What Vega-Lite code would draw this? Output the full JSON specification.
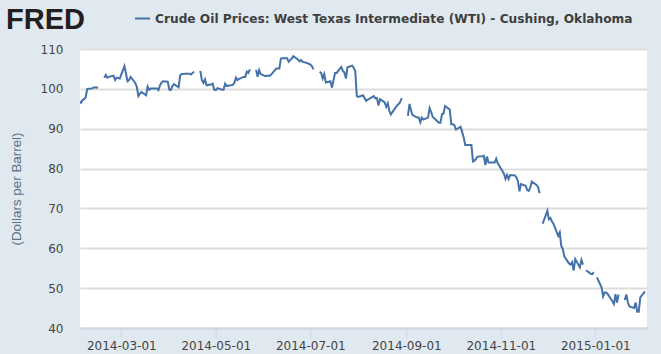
{"$schema":"https://vega.github.io/schema/vega-lite/v6.json","width":567,"height":279,"autosize":{"type":"none"},"padding":{"left":80,"top":49,"right":14,"bottom":26},"background":"#e1e9f0","view":{"fill":"#ffffff","stroke":null},
"title":{"text":"FRED","font":"Liberation Sans","fontWeight":"bold","fontSize":29,"color":"#231f20","anchor":"start","frame":"group","dx":-74,"offset":0,"dy":25},
"data":{"values":[
{"date":"2014-01-31","price":97.5},{"date":"2014-02-03","price":96.5},{"date":"2014-02-04","price":97.2},{"date":"2014-02-05","price":97.4},{"date":"2014-02-06","price":97.9},{"date":"2014-02-07","price":100.0},{"date":"2014-02-10","price":100.1},{"date":"2014-02-11","price":100.3},{"date":"2014-02-12","price":100.4},{"date":"2014-02-13","price":100.3},{"date":"2014-02-14","price":100.4},{"date":"2014-02-17","price":null},
{"date":"2014-02-18","price":102.8},{"date":"2014-02-19","price":103.5},{"date":"2014-02-20","price":102.8},{"date":"2014-02-21","price":103.0},{"date":"2014-02-24","price":103.3},{"date":"2014-02-25","price":102.2},{"date":"2014-02-26","price":102.8},{"date":"2014-02-27","price":102.7},{"date":"2014-02-28","price":102.6},
{"date":"2014-03-03","price":105.7},{"date":"2014-03-04","price":103.8},{"date":"2014-03-05","price":101.9},{"date":"2014-03-06","price":102.2},{"date":"2014-03-07","price":103.0},{"date":"2014-03-10","price":101.5},{"date":"2014-03-11","price":100.5},{"date":"2014-03-12","price":98.2},{"date":"2014-03-13","price":98.8},{"date":"2014-03-14","price":99.2},{"date":"2014-03-17","price":98.4},{"date":"2014-03-18","price":100.6},{"date":"2014-03-19","price":99.8},{"date":"2014-03-20","price":100.1},{"date":"2014-03-21","price":100.1},{"date":"2014-03-24","price":100.1},{"date":"2014-03-25","price":99.7},{"date":"2014-03-26","price":100.9},{"date":"2014-03-27","price":101.6},{"date":"2014-03-28","price":101.9},{"date":"2014-03-31","price":101.8},
{"date":"2014-04-01","price":99.8},{"date":"2014-04-02","price":99.7},{"date":"2014-04-03","price":100.7},{"date":"2014-04-04","price":101.2},{"date":"2014-04-07","price":100.4},{"date":"2014-04-08","price":103.4},{"date":"2014-04-09","price":103.7},{"date":"2014-04-10","price":103.7},{"date":"2014-04-11","price":103.8},{"date":"2014-04-14","price":103.8},{"date":"2014-04-15","price":103.6},{"date":"2014-04-16","price":104.0},{"date":"2014-04-17","price":104.3},{"date":"2014-04-18","price":null},
{"date":"2014-04-21","price":104.5},{"date":"2014-04-22","price":102.2},{"date":"2014-04-23","price":101.5},{"date":"2014-04-24","price":102.4},{"date":"2014-04-25","price":100.9},{"date":"2014-04-28","price":101.1},{"date":"2014-04-29","price":101.3},{"date":"2014-04-30","price":99.8},
{"date":"2014-05-01","price":99.7},{"date":"2014-05-02","price":100.2},{"date":"2014-05-05","price":99.8},{"date":"2014-05-06","price":99.8},{"date":"2014-05-07","price":101.3},{"date":"2014-05-08","price":100.7},{"date":"2014-05-09","price":100.8},{"date":"2014-05-12","price":101.0},{"date":"2014-05-13","price":101.5},{"date":"2014-05-14","price":102.8},{"date":"2014-05-15","price":102.2},{"date":"2014-05-16","price":102.5},{"date":"2014-05-19","price":103.0},{"date":"2014-05-20","price":103.0},{"date":"2014-05-21","price":104.3},{"date":"2014-05-22","price":104.0},{"date":"2014-05-23","price":104.9},{"date":"2014-05-26","price":null},
{"date":"2014-05-27","price":104.8},{"date":"2014-05-28","price":103.0},{"date":"2014-05-29","price":104.7},{"date":"2014-05-30","price":103.7},{"date":"2014-06-02","price":103.2},{"date":"2014-06-03","price":103.3},{"date":"2014-06-04","price":103.3},{"date":"2014-06-05","price":103.3},{"date":"2014-06-06","price":103.7},{"date":"2014-06-09","price":105.1},{"date":"2014-06-10","price":105.1},{"date":"2014-06-11","price":105.1},{"date":"2014-06-12","price":107.6},{"date":"2014-06-13","price":107.7},{"date":"2014-06-16","price":107.7},{"date":"2014-06-17","price":106.8},{"date":"2014-06-18","price":107.2},{"date":"2014-06-19","price":107.6},{"date":"2014-06-20","price":108.2},{"date":"2014-06-23","price":107.4},{"date":"2014-06-24","price":106.9},{"date":"2014-06-25","price":107.2},{"date":"2014-06-26","price":106.8},{"date":"2014-06-27","price":106.7},{"date":"2014-06-30","price":106.3},
{"date":"2014-07-01","price":106.1},{"date":"2014-07-02","price":105.7},{"date":"2014-07-03","price":104.9},{"date":"2014-07-04","price":null},
{"date":"2014-07-07","price":104.3},{"date":"2014-07-08","price":104.0},{"date":"2014-07-09","price":102.6},{"date":"2014-07-10","price":103.7},{"date":"2014-07-11","price":101.6},{"date":"2014-07-14","price":101.9},{"date":"2014-07-15","price":100.3},{"date":"2014-07-16","price":102.2},{"date":"2014-07-17","price":104.0},{"date":"2014-07-18","price":104.0},{"date":"2014-07-21","price":105.5},{"date":"2014-07-22","price":104.5},{"date":"2014-07-23","price":104.1},{"date":"2014-07-24","price":102.6},{"date":"2014-07-25","price":105.4},{"date":"2014-07-28","price":105.8},{"date":"2014-07-29","price":105.3},{"date":"2014-07-30","price":104.5},{"date":"2014-07-31","price":98.2},
{"date":"2014-08-01","price":98.0},{"date":"2014-08-04","price":98.4},{"date":"2014-08-05","price":97.7},{"date":"2014-08-06","price":97.0},{"date":"2014-08-07","price":97.3},{"date":"2014-08-08","price":97.5},{"date":"2014-08-11","price":98.2},{"date":"2014-08-12","price":97.6},{"date":"2014-08-13","price":97.7},{"date":"2014-08-14","price":95.8},{"date":"2014-08-15","price":97.4},{"date":"2014-08-18","price":96.6},{"date":"2014-08-19","price":95.5},{"date":"2014-08-20","price":96.4},{"date":"2014-08-21","price":94.5},{"date":"2014-08-22","price":93.6},{"date":"2014-08-25","price":95.3},{"date":"2014-08-26","price":95.8},{"date":"2014-08-27","price":96.2},{"date":"2014-08-28","price":96.7},{"date":"2014-08-29","price":97.7},{"date":"2014-09-01","price":null},
{"date":"2014-09-02","price":93.2},{"date":"2014-09-03","price":96.2},{"date":"2014-09-04","price":94.7},{"date":"2014-09-05","price":93.4},{"date":"2014-09-08","price":92.8},{"date":"2014-09-09","price":92.8},{"date":"2014-09-10","price":91.6},{"date":"2014-09-11","price":92.8},{"date":"2014-09-12","price":92.3},{"date":"2014-09-15","price":92.8},{"date":"2014-09-16","price":95.2},{"date":"2014-09-17","price":94.2},{"date":"2014-09-18","price":93.0},{"date":"2014-09-19","price":92.6},{"date":"2014-09-22","price":91.5},{"date":"2014-09-23","price":91.5},{"date":"2014-09-24","price":93.7},{"date":"2014-09-25","price":93.8},{"date":"2014-09-26","price":95.7},{"date":"2014-09-29","price":94.8},{"date":"2014-09-30","price":91.1},
{"date":"2014-10-01","price":91.1},{"date":"2014-10-02","price":90.9},{"date":"2014-10-03","price":89.8},{"date":"2014-10-06","price":90.5},{"date":"2014-10-07","price":89.2},{"date":"2014-10-08","price":87.8},{"date":"2014-10-09","price":85.9},{"date":"2014-10-10","price":85.9},{"date":"2014-10-13","price":85.9},{"date":"2014-10-14","price":81.8},{"date":"2014-10-15","price":82.0},{"date":"2014-10-16","price":82.5},{"date":"2014-10-17","price":83.0},{"date":"2014-10-20","price":83.1},{"date":"2014-10-21","price":83.2},{"date":"2014-10-22","price":80.9},{"date":"2014-10-23","price":83.0},{"date":"2014-10-24","price":81.5},{"date":"2014-10-27","price":81.5},{"date":"2014-10-28","price":81.5},{"date":"2014-10-29","price":82.5},{"date":"2014-10-30","price":81.3},{"date":"2014-10-31","price":80.7},
{"date":"2014-11-03","price":78.7},{"date":"2014-11-04","price":77.4},{"date":"2014-11-05","price":78.4},{"date":"2014-11-06","price":77.4},{"date":"2014-11-07","price":78.4},{"date":"2014-11-10","price":78.3},{"date":"2014-11-11","price":77.8},{"date":"2014-11-12","price":76.9},{"date":"2014-11-13","price":74.3},{"date":"2014-11-14","price":76.1},{"date":"2014-11-17","price":75.7},{"date":"2014-11-18","price":74.6},{"date":"2014-11-19","price":74.4},{"date":"2014-11-20","price":75.3},{"date":"2014-11-21","price":76.7},{"date":"2014-11-24","price":75.9},{"date":"2014-11-25","price":75.4},{"date":"2014-11-26","price":73.8},{"date":"2014-11-27","price":null},
{"date":"2014-11-28","price":66.2},{"date":"2014-12-01","price":69.4},{"date":"2014-12-02","price":67.3},{"date":"2014-12-03","price":67.6},{"date":"2014-12-04","price":66.7},{"date":"2014-12-05","price":66.1},{"date":"2014-12-08","price":63.1},{"date":"2014-12-09","price":64.0},{"date":"2014-12-10","price":60.6},{"date":"2014-12-11","price":59.8},{"date":"2014-12-12","price":57.9},{"date":"2014-12-15","price":56.2},{"date":"2014-12-16","price":55.9},{"date":"2014-12-17","price":56.5},{"date":"2014-12-18","price":54.4},{"date":"2014-12-19","price":57.3},{"date":"2014-12-22","price":55.2},{"date":"2014-12-23","price":57.1},{"date":"2014-12-24","price":55.9},{"date":"2014-12-25","price":null},
{"date":"2014-12-26","price":54.5},{"date":"2014-12-29","price":53.6},{"date":"2014-12-30","price":53.5},{"date":"2014-12-31","price":54.0},{"date":"2015-01-01","price":null},
{"date":"2015-01-02","price":52.7},{"date":"2015-01-05","price":50.2},{"date":"2015-01-06","price":47.9},{"date":"2015-01-07","price":48.9},{"date":"2015-01-08","price":48.9},{"date":"2015-01-09","price":48.5},{"date":"2015-01-12","price":46.7},{"date":"2015-01-13","price":46.0},{"date":"2015-01-14","price":48.5},{"date":"2015-01-15","price":46.4},{"date":"2015-01-16","price":48.4},{"date":"2015-01-19","price":null},
{"date":"2015-01-20","price":47.0},{"date":"2015-01-21","price":48.4},{"date":"2015-01-22","price":46.4},{"date":"2015-01-23","price":45.4},{"date":"2015-01-26","price":45.0},{"date":"2015-01-27","price":46.4},{"date":"2015-01-28","price":44.1},{"date":"2015-01-29","price":44.1},{"date":"2015-01-30","price":47.7},{"date":"2015-02-02","price":49.2}
]},
"transform":[{"calculate":"'Crude Oil Prices: West Texas Intermediate (WTI) - Cushing, Oklahoma'","as":"series"}],
"mark":{"type":"line","strokeWidth":2,"clip":true,"interpolate":"linear"},
"encoding":{
"x":{"field":"date","type":"temporal","title":null,"scale":{"type":"utc","domain":[{"year":2014,"month":2,"date":2,"hours":8,"utc":true},{"year":2015,"month":2,"date":3,"hours":8,"utc":true}]},
"axis":{"values":[{"year":2014,"month":3,"date":1,"utc":true},{"year":2014,"month":5,"date":1,"utc":true},{"year":2014,"month":7,"date":1,"utc":true},{"year":2014,"month":9,"date":1,"utc":true},{"year":2014,"month":11,"date":1,"utc":true},{"year":2015,"month":1,"date":1,"utc":true}],"labelExpr":"utcFormat(datum.value,'%Y-%m-%d')","grid":false,"domainColor":"#ccd6e2","domainWidth":2,"tickColor":"#d3deea","tickWidth":2,"tickSize":10,"labelPadding":2,"labelFont":"DejaVu Sans","labelFontSize":12,"labelColor":"#444444","labelOverlap":false,"labelFlush":false}},
"y":{"field":"price","type":"quantitative","title":"(Dollars per Barrel)","scale":{"domain":[40,110],"nice":false,"zero":false},
"axis":{"values":[40,50,60,70,80,90,100,110],"grid":true,"gridColor":"#dddddd","gridWidth":2,"domain":false,"ticks":false,"labelPadding":17,"labelFont":"DejaVu Sans","labelFontSize":12,"labelColor":"#444444","titleFont":"Liberation Sans","titleFontSize":13.4,"titleFontWeight":"normal","titleColor":"#5b7083","titlePadding":17}},
"color":{"field":"series","type":"nominal","scale":{"range":["#4572a7"]},
"legend":{"orient":"none","legendX":54,"legendY":-39,"title":null,"symbolType":"stroke","symbolSize":225,"symbolStrokeWidth":2,"labelFont":"DejaVu Sans","labelFontSize":12.2,"labelFontWeight":"bold","labelColor":"#3e3e3e","labelLimit":600,"padding":0,"labelOffset":4}}
}}
